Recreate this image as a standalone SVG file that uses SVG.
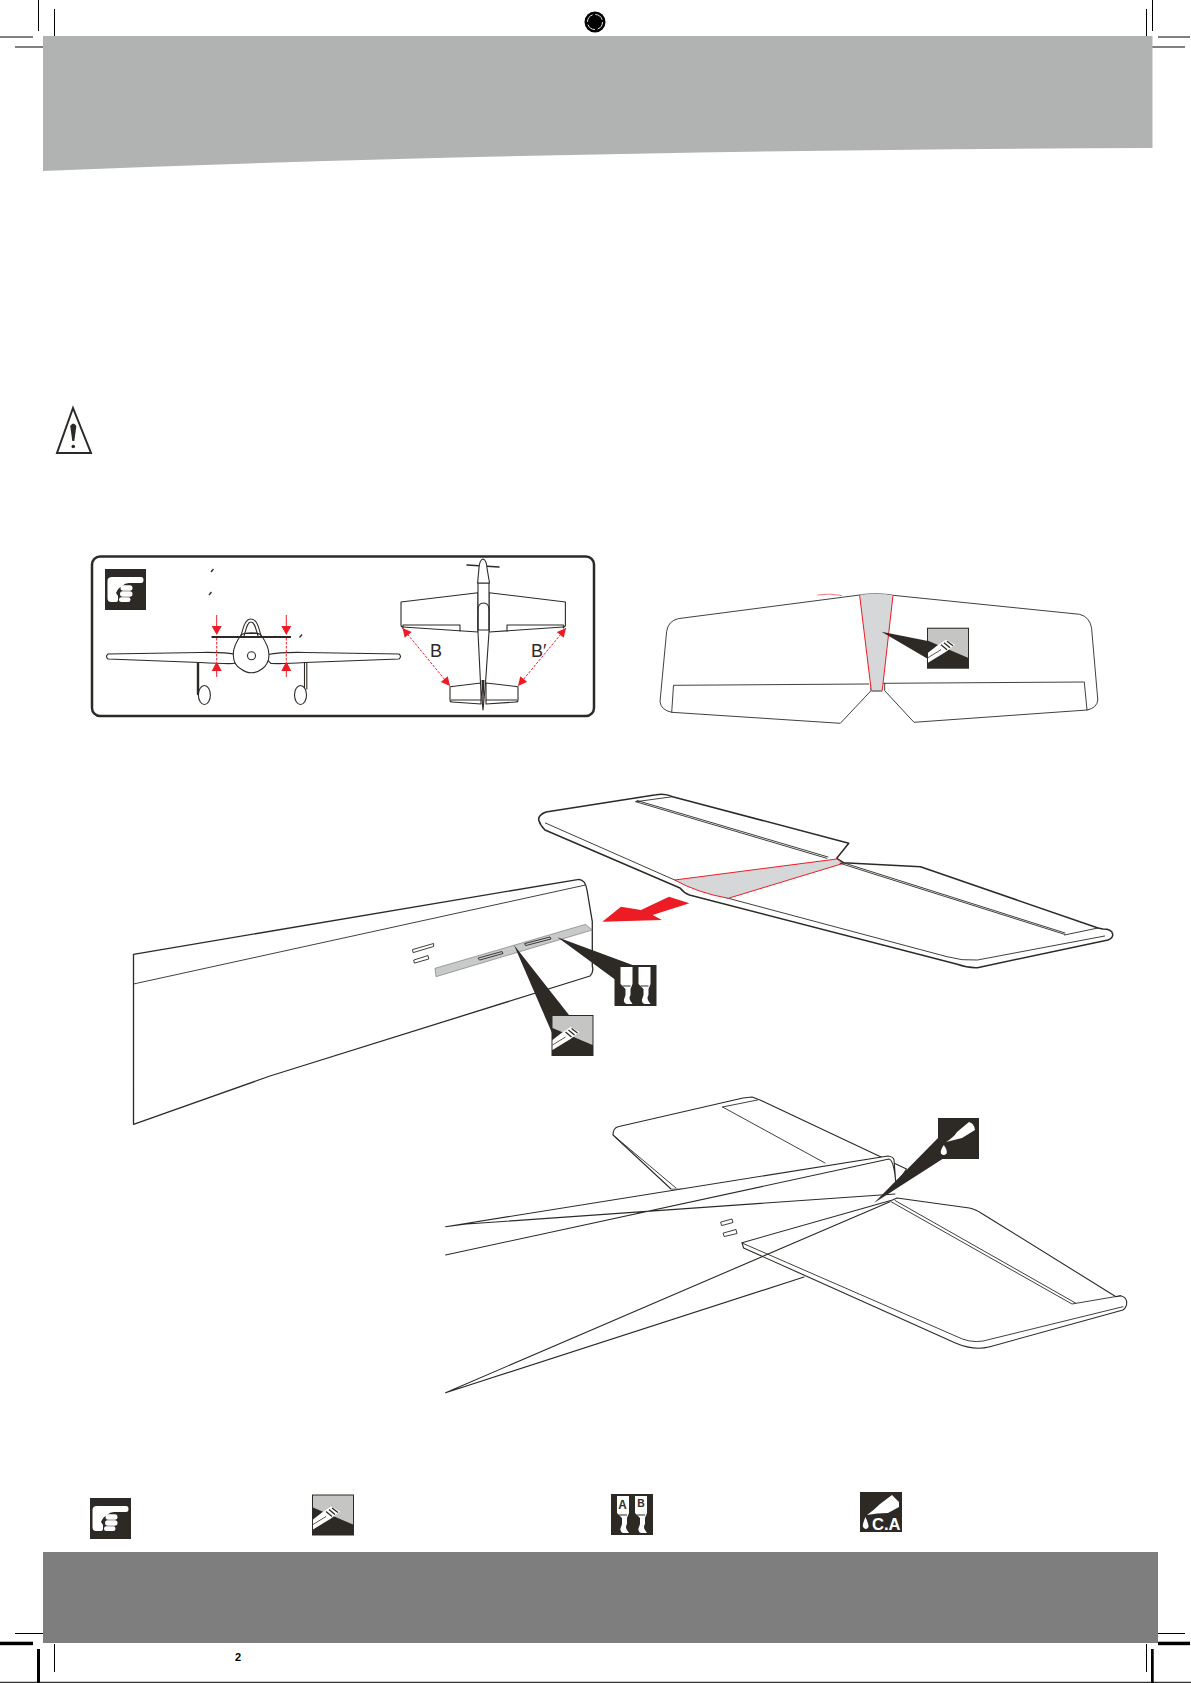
<svg xmlns="http://www.w3.org/2000/svg" xmlns:xlink="http://www.w3.org/1999/xlink" width="1191" height="1683" viewBox="0 0 1191 1683">
<style>
.l{fill:none;stroke:#2d2a26;stroke-width:1.1;stroke-linejoin:round;stroke-linecap:round}
.t{stroke-width:.9}
.h{stroke-width:1.7}
.w{fill:#fff}
.k{stroke:#000;stroke-width:1;fill:none}
.ke{fill:#000}
.r{stroke:#ed1c24;stroke-width:1;fill:none}
.rd{stroke:#ed1c24;stroke-width:1;fill:none;stroke-dasharray:2.5 1.5}
.g{fill:#d6d7d9}
.dk{fill:#2d2a26}
.wh{fill:#fff}
.lbl{font-family:"Liberation Sans",Arial,sans-serif;fill:#2d2a26}
</style>
<defs>
<marker id="rh" viewBox="0 0 10 10" refX="10" refY="5" markerWidth="10" markerHeight="9" markerUnits="userSpaceOnUse" orient="auto-start-reverse"><path d="M0 0L10 5L0 10Z" fill="#ed1c24"/></marker>
<g id="i-hand">
<rect width="41" height="41" class="dk"/>
<path class="wh" d="M7 8H36Q38.500 8 38.500 11Q38.500 14 36 14H24Q20 14 17 17Q13 19 11 24L13 27V31Q13 33 11 33H6Q2.500 33 2.500 29V12Q2.500 8 7 8Z"/>
<rect x="15.500" y="16.300" width="12" height="5.400" rx="2.700" class="wh"/>
<rect x="15" y="22.300" width="12.500" height="5.400" rx="2.700" class="wh"/>
<rect x="14" y="28.300" width="11.500" height="4.700" rx="2.300" class="wh"/>
</g>
<g id="i-spread">
<rect width="42" height="41" class="dk"/>
<path d="M1 1H41V30L1 13Z" fill="#c5c6c4"/>
<path class="wh" d="M1 25L10 18L19 12L28 17L19 24L1 35Z"/>
<path d="M14 17L20 22M17 15L23 20M20 13.500L26 18" stroke="#2d2a26" stroke-width="1.300" fill="none"/>
<path d="M1 30L14 22" stroke="#2d2a26" stroke-width=".8" fill="none"/>
</g>
<g id="i-ab">
<rect width="42" height="41" class="dk"/>
<path class="wh" d="M6 2H18V19L16 24V30Q14 33 16 36L18 39H12Q8 37 10 33L11 30V24L6 19Z"/>
<path class="wh" d="M24 2H36V19L34 24V30Q32 33 34 36L36 39H30Q26 37 28 33L29 30V24L24 19Z"/>
<path d="M8 21H16M26 21H34" stroke="#2d2a26" stroke-width="1" fill="none"/>
</g>
<g id="i-ca">
<rect width="41" height="41" class="dk"/>
<path class="wh" d="M31 4Q36 5 37 12L24 20L8 24Q16 19 19 14Z"/>
<path class="wh" d="M5.800 27Q10 33 8.500 35.500Q5.800 38.500 3 35.500Q1.800 33 5.800 27Z"/>
</g>
</defs>

<rect width="1191" height="1683" fill="#fff"/>

<g id="page-marks">
<path class="k" d="M38.500 0V31M54.500 9V36M0 37H33M15 47H43M1152.500 0V31M1146.500 9V36M1158 37H1190M1152 47H1185M15 1633.500H43M1158 1633.500H1185M54.500 1644V1672M1146.500 1644V1672"/>
<rect class="ke" x="0" y="1641.700" width="33" height="3.500"/>
<rect class="ke" x="1158" y="1641.700" width="32" height="3.500"/>
<rect class="ke" x="37" y="1649" width="3" height="34"/>
<rect class="ke" x="1151" y="1649" width="2.700" height="34"/>
<path class="k" d="M0 1682.300H1191"/>
<circle class="ke" cx="595" cy="22" r="10.500"/>
<circle cx="595" cy="22" r="7.500" fill="none" stroke="#fff" stroke-width=".9" stroke-dasharray="9 2.800"/>
</g>

<path id="header-band" fill="#b1b3b2" d="M43 36H1152.500V148Q560 150 43 171Z"/>
<rect id="footer-band" fill="#7e7e7e" x="43" y="1552" width="1115" height="91"/>

<g id="warning">
<path d="M73 408L57 453H91Z" fill="none" stroke="#2d2a26" stroke-width="2" stroke-linejoin="miter"/>
<path class="dk" d="M70.200 426Q73.300 421 76.400 426L74.300 441H72.300Z"/>
<circle class="dk" cx="73.300" cy="446.500" r="1.800"/>
</g>

<g id="note-box">
<rect x="92" y="556.500" width="502" height="159.500" rx="8" fill="#fff" stroke="#2d2a26" stroke-width="2.500"/>
<use href="#i-hand" x="105" y="569"/>
<path d="M211 572L213.500 569M209 595L211.500 592M299.500 637.500L302 634.500" stroke="#2d2a26" stroke-width="1.300" fill="none"/>
</g>

<g id="plane-front">
<path class="l" d="M198 662V694" style="stroke-width:2.400"/>
<path class="l" d="M304.500 662V689M306.800 662V689"/>
<ellipse class="l w" cx="204.400" cy="695" rx="6" ry="9.500"/>
<ellipse class="l w" cx="300.500" cy="695" rx="6" ry="9.500"/>
<path class="l w" d="M108 654Q105 656.500 108 659L200 662.500Q225 664 234 663.500Q238 660 237 654.500Q225 652 200 652.500Z"/>
<path class="l w" d="M399 654Q402 656.500 399 659L305 662.500Q285 664 271 663.500Q266 660 268 654.500Q280 652 305 652.500Z"/>
<path class="l w" d="M241 635C236 642 233 649 233.300 655C233.500 662 237 667 241 669C245 672 248 672.800 251.500 672.800C255 672.800 258 672 262 669C266 666 269 661 269 655C269 649 266 642 261 635C258 632 245 632 241 635Z"/>
<circle class="l" cx="251.500" cy="655.700" r="4"/>
<path class="l" d="M241 636C243 628 245 619 251 619C257 619 259 628 261 636"/>
<path class="l" d="M244 636C246 630 247 622 251 622C255 622 256 630 258 636M245 633.500H258"/>
<path d="M211.500 637H291" stroke="#2d2a26" stroke-width="2"/>
</g>

<g id="plane-top">
<path class="l" d="M467 565L499 567" style="stroke-width:1.500"/>
<path class="l w" d="M401 602L478 592.700V632L403 627Q401 627 401 625Z"/>
<path class="l w" d="M565.400 602L489 592.700V632L563 627Q565.400 627 565.400 625Z"/>
<path class="l" d="M403 628V625H460V631M507 631V625H563.400V628" />
<path class="l w" d="M450 686.700L481 683V704L452 702Q450 702 450 700Z"/>
<path class="l w" d="M518 686.700L486 683V704L516 702Q518 702 518 700Z"/>
<path class="l" d="M451 700H481M486 700H517"/>
<path class="l w" d="M478 583V632L480.500 683L483 710L485.500 683L489 632V583Z"/>
<path class="l w" d="M477.600 583L479 568Q479.500 560 483 559Q486.500 560 487 568L489.500 583Z"/>
<path class="l" d="M478 630V610Q478 603 483.500 603Q489 603 489 610V630H478"/>
<path d="M481.500 680L483 708L484.500 680Z" fill="#2d2a26"/>
</g>

<g id="labels">
<text class="lbl" x="430" y="657" font-size="18">B</text>
<text class="lbl" x="531" y="657" font-size="18">B′</text>
<text x="238" y="1661" font-size="11" font-weight="700" text-anchor="middle" font-family="'Liberation Sans',Arial,sans-serif" fill="#000">2</text>
</g>

<g id="wing-top">
<path class="l t w" d="M859.600 595C866 593.500 886 593.500 893 595.300L1079.600 614.300Q1090 617 1091.600 628.300L1097.800 700Q1097 708 1087 710L914 722.300L884.700 690.700V683.300H871V690.700L840.300 723.300L671.700 712.300Q661 710 660 701.700L666.600 631.700Q668 621 678 618.700Z"/>
<path class="l t" d="M671.700 712.300L673.500 685.300L868.700 684M884.700 683.300L1084.300 682L1087 710"/>
<path class="g" d="M859.600 595C866 593.500 886 593.500 893 595.300L882.200 690.700H871.300Z"/>
<path class="r" d="M859.600 595L871.300 690.700M893 595.300L882.200 690.700"/>
<path d="M871.300 691H882.200" stroke="#6d6e70" stroke-width="1.500"/>
<path class="r" d="M817.700 595Q830 593 842 595.500" style="stroke-width:.6"/>
<path class="dk" d="M881.500 631.700L928 641V659Z"/>
<use href="#i-spread" x="927" y="627.700"/>
</g>

<g id="tail-exploded">
<path class="l h w" d="M133.500 954.300L579 879.300Q585.600 880 587 890L592.300 921.700V966Q594 972 590 976L270 1076L133.500 1124.300Z" style="stroke-width:1.300"/>
<path class="l t" d="M133.500 984L585.600 885"/>
<path fill="#c8c9c9" stroke="#6d6e70" stroke-width=".6" d="M435 968.300L585.600 924.300L592.300 930L436 976.700Z"/>
<path class="l t" d="M478.400 958L502 951.500L503 953.500L480 960ZM525 943.500L550 937L551 939L526 945.500Z"/>
<path class="l t" d="M412.800 949.500L433.600 943.500L433.600 946.500L413.500 952.500ZM414 960L428 955.500L428.800 959L414.800 963Z"/>
<path class="dk" d="M557.500 937.300L632.500 965L615.700 980Z"/>
<use href="#i-ab" x="614.500" y="965"/>
<path class="dk" d="M514 945L569 1015L552 1033Z"/>
<use href="#i-spread" x="551.500" y="1015"/>
</g>

<g id="stab-upper">
<path class="l w" d="M848.800 843.300L672.600 796.700Q665 793 656 794.700L546 812Q538 815 538.700 820Q540 825 545 830L680 888Q684 893 689.400 895L957.300 964.300Q967 968 977.400 967.700L1108 940Q1113 938 1112.700 934.300Q1112 929 1103 929L1098 928L920.500 866.700L843.500 862.700L836.700 858.300Z" style="stroke-width:1.500"/>
<path class="l t" d="M545.400 823L674.700 880L728.300 898.300L947 956.700Q962 961 977.400 960L1104.700 936"/>
<path class="g" d="M674.700 880L836.700 859L843.500 863.300L728.300 898.300Q698 893 674.700 880Z"/>
<path class="r" d="M674.700 880L836.700 859L843.500 863.300L728.300 898.300Q698 893 674.700 880Z"/>
<path class="l t" d="M635.800 801.700L826.700 858.300M637 800.500L828 857M840 863.300L1064.500 934.300M841 862L1065 933M635.800 801.700L672.600 796.700M1064.500 935L1098 928"/>
<path d="M602.300 921.700L621 906.700L641 910L669 896.700L689.400 903.300L652.600 915L662 920Z" fill="#ed1c24"/>
</g>

<g id="tail-assembled">
<path class="l w" d="M613 1135Q613 1128 618 1126.700L743 1098L752 1097L760 1100L906.500 1169L896 1185L880 1190L671 1189Z"/>
<path class="l t" d="M613 1135L676 1188M722.600 1107L757.500 1100M722.600 1107L825 1163"/>
<path class="l w" d="M445.600 1226.700L888 1156Q894 1157 894 1160L896 1185V1195L890 1201.700L445.600 1392.700Z" style="stroke:none"/>
<path class="l" d="M445.600 1226.700L888 1156Q894 1157 894 1160L896 1185M445.600 1255L889 1159Q894 1160 896 1185M445.600 1226.700L466.500 1224L895 1194"/>
<path class="l w" d="M742 1242.700L892.500 1200L897 1198L969.300 1208Q977 1210 981 1213L1116 1296.700L1120.600 1295.700Q1126 1297 1126.700 1301.700Q1127 1307 1123 1310L990 1346.700Q974 1351 955.400 1343L743.600 1248Z"/>
<path class="l t" d="M742 1243L962.400 1339Q976 1344 990 1339.300L1123 1306.700M891 1201.700L1072 1304L1120.600 1295.700M895 1200.500L1075.500 1303"/>
<path class="l" d="M445.600 1392.700L890 1201.700M445.600 1392.700L804 1277"/>
<path class="l t" d="M721 1222L732 1219L733 1222.500L722 1225.500ZM723.500 1233L736 1229.500L737 1233.500L724.500 1236.500Z"/>
<path class="dk" d="M874 1203L938 1138L944 1158Z"/>
<use href="#i-ca" x="938" y="1118"/>
</g>

<g id="connectors">
<path class="r" d="M216.700 615V626M286.300 615V626"/>
<path d="M211.700 626L216.700 635L221.700 626ZM281.300 626L286.300 635L291.300 626Z" fill="#ed1c24"/>
<path class="rd" d="M216.700 638V662M286.300 638V662"/>
<path d="M216.700 661.500L211.700 671H221.700ZM286.300 661.500L281.300 671H291.300Z" fill="#ed1c24"/>
<path class="r" d="M216.700 671V677M286.300 671V677"/>
<path class="rd" d="M402.500 628L450 686" marker-start="url(#rh)" marker-end="url(#rh)"/>
<path class="rd" d="M566 628L518 686" marker-start="url(#rh)" marker-end="url(#rh)"/>
</g>

<g id="legend">
<use href="#i-hand" x="90" y="1498"/>
<use href="#i-spread" x="312" y="1494.500"/>
<g id="legend-ab">
<use href="#i-ab" x="611" y="1494"/>
<text x="622.500" y="1509" font-size="13" font-weight="700" text-anchor="middle" textLength="8.500" lengthAdjust="spacingAndGlyphs" font-family="'Liberation Sans',Arial,sans-serif" fill="#2d2a26">A</text>
<text x="641" y="1507" font-size="11" font-weight="700" text-anchor="middle" textLength="7.500" lengthAdjust="spacingAndGlyphs" font-family="'Liberation Sans',Arial,sans-serif" fill="#2d2a26">B</text>
</g>
<g id="legend-ca">
<rect x="860" y="1492" width="42" height="40" class="dk"/>
<path class="wh" d="M892 1495L899 1502V1507L888 1513Q877 1513 867 1515Q874 1510 880 1504Z"/>
<path class="wh" d="M865.500 1517Q869 1525 868.500 1527Q866 1531 863 1527Q862 1525 865.500 1517Z"/>
<text x="872" y="1529.500" font-size="16" font-weight="700" textLength="28.500" lengthAdjust="spacingAndGlyphs" font-family="'Liberation Sans',Arial,sans-serif" fill="#fff">C.A</text>
</g>
</g>
</svg>
